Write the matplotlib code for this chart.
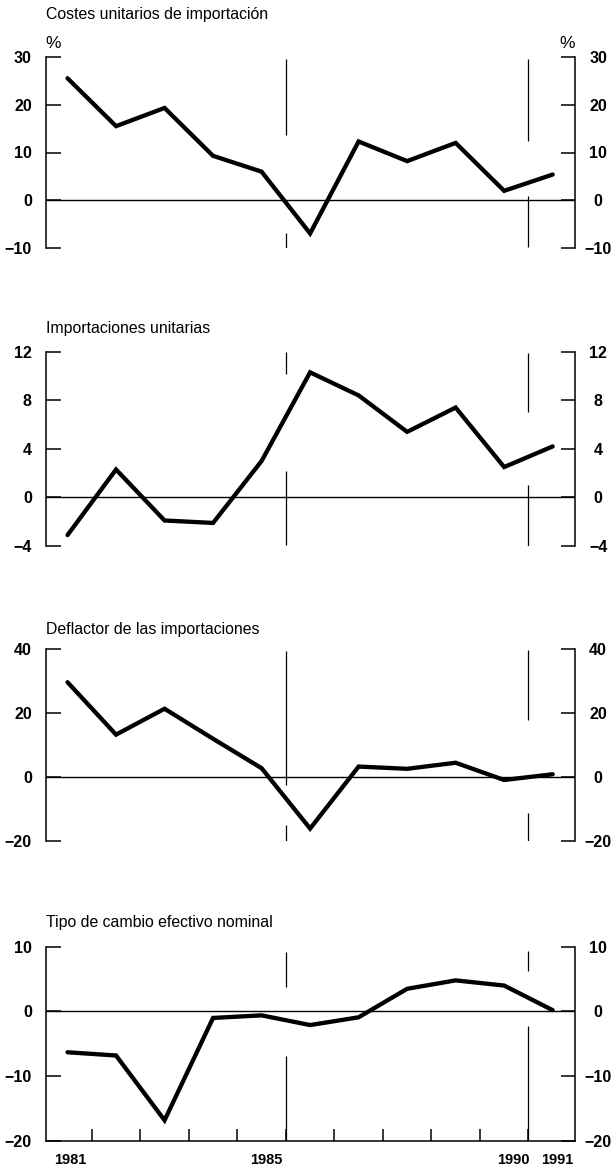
import matplotlib
matplotlib.use("Agg")
import matplotlib.pyplot as plt

plt.rcParams['font.family'] = ['Liberation Sans', 'DejaVu Sans']

# ---- data -----------------------------------------------------------
years = list(range(1981, 1992))

costes = [25.5, 15.5, 19.3, 9.3, 6.0, -6.9, 12.3, 8.2, 12.0, 2.0, 5.4]
importaciones = [-3.1, 2.3, -1.9, -2.1, 3.0, 10.3, 8.4, 5.4, 7.4, 2.5, 4.2]
deflactor = [29.6, 13.2, 21.3, 11.9, 2.7, -16.2, 3.2, 2.5, 4.4, -1.0, 0.8]
tipo_cambio = [-6.3, -6.8, -16.8, -1.0, -0.6, -2.1, -0.9, 3.5, 4.8, 4.0, 0.2]

titles = ["Costes unitarios de importación",
          "Importaciones unitarias",
          "Deflactor de las importaciones",
          "Tipo de cambio efectivo nominal"]

y_ticks = [[-10, 0, 10, 20, 30],
           [-4, 0, 4, 8, 12],
           [-20, 0, 20, 40],
           [-20, -10, 0, 10]]

# reference lines at end of 1985 and 1990, broken where the curve passes
vline_x = [1985.5, 1990.5]
vline_spans = [
    [[(13.7, 29.5), (-10, -6.9)], [(12.5, 29.5), (-9.8, 1.0)]],
    [[(10.2, 12.0), (-3.9, 2.15)], [(7.0, 11.9), (-4.0, 1.0)]],
    [[(-2.6, 39.5), (-20, -15.1)], [(17.7, 39.7), (-20, -11.3)]],
    [[(3.8, 9.2), (-20, -6.8)], [(6.3, 9.4), (-20, -2.3)]],
]

year_bounds = [1981.5, 1982.5, 1983.5, 1984.5, 1985.5,
               1986.5, 1987.5, 1988.5, 1989.5, 1990.5]
year_labels = ["1981", "1985", "1990", "1991"]
year_label_pos = [1981.05, 1985.1, 1990.2, 1991.1]

series = [costes, importaciones, deflactor, tipo_cambio]

# ---- layout (pixels of the 616x1169 image) ----------------------------
W, H = 616, 1169
ax_left, ax_right = 45.7, 574.5
tops = [56.7, 351.7, 649.0, 946.7]
bottoms = [248.3, 546.0, 840.7, 1141.0]
title_y = [15, 328, 629, 923]

fig = plt.figure(figsize=(W / 100, H / 100), dpi=100)

for i, vals in enumerate(series):
    ax = fig.add_axes([ax_left / W, 1 - bottoms[i] / H,
                       (ax_right - ax_left) / W, (bottoms[i] - tops[i]) / H])
    ax.set_xlim(1980.55, 1991.45)
    ax.set_ylim(y_ticks[i][0], y_ticks[i][-1])

    ax.axhline(0, color="black", lw=1.0, zorder=1)
    for x, spans in zip(vline_x, vline_spans[i]):
        for lo, hi in spans:
            ax.vlines(x, lo, hi, color="black", lw=0.9, zorder=1)

    ax.plot(years, vals, color="black", lw=3.1,
            solid_capstyle="round", solid_joinstyle="miter", zorder=3)

    for s in ["top", "bottom", "right"]:
        ax.spines[s].set_visible(False)
    ax.spines["left"].set_linewidth(1.1)

    ax.set_yticks(y_ticks[i])
    ax.tick_params(axis="y", direction="in", length=11, width=1.1,
                   pad=10, labelsize=11.5)
    for t in ax.get_yticklabels():
        t.set_fontweight("bold")

    # right side axis
    axr = ax.twinx()
    axr.set_ylim(ax.get_ylim())
    axr.set_yticks(y_ticks[i])
    for s in ["top", "bottom", "left"]:
        axr.spines[s].set_visible(False)
    axr.spines["right"].set_linewidth(1.1)
    axr.tick_params(axis="y", direction="in", length=10, width=1.1,
                    pad=17, labelsize=11.5)
    for t in axr.get_yticklabels():
        t.set_fontweight("bold")
        t.set_horizontalalignment("center")

    if i == 3:
        ax.spines["bottom"].set_visible(True)
        ax.spines["bottom"].set_linewidth(1.1)
        ax.set_xticks(year_bounds)
        ax.set_xticklabels([])
        ax.tick_params(axis="x", which="major", direction="in",
                       length=8.5, width=1.1)
        ax.set_xticks(year_label_pos, minor=True)
        ax.set_xticklabels(year_labels, minor=True)
        ax.tick_params(axis="x", which="minor", length=0, pad=9,
                       labelsize=10.5)
        for t in ax.get_xticklabels(minor=True):
            t.set_fontweight("bold")
    else:
        ax.set_xticks([])

    fig.text(46 / W, 1 - title_y[i] / H, titles[i], fontsize=11.4,
             ha="left", va="center")

# percent signs on top of the first panel
fig.text(45 / W, 1 - 43 / H, "%", fontsize=12.5, ha="left", va="center")
fig.text(575 / W, 1 - 43 / H, "%", fontsize=12.5, ha="right", va="center")

fig.savefig("out.png", dpi=100)
